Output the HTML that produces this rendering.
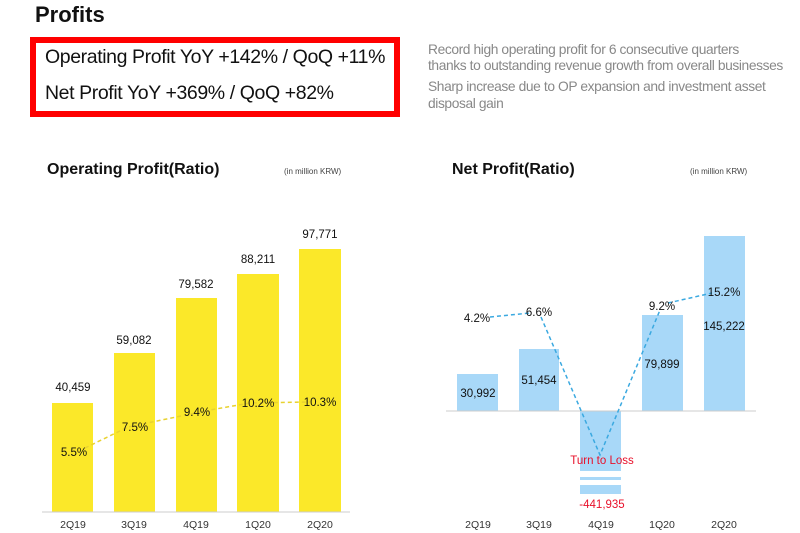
<!DOCTYPE html>
<html><head><meta charset="utf-8"><style>
body{margin:0;width:800px;height:533px;background:#fff;font-family:"Liberation Sans",sans-serif;overflow:hidden;position:relative}
.a{position:absolute;white-space:nowrap}
</style></head><body>
<div class="a" style="left:35px;top:2px;font-size:22px;font-weight:bold;color:#111">Profits</div>
<div class="a" style="left:30px;top:37px;width:358px;height:68px;border:6px solid #f00"></div>
<div class="a" style="left:45px;top:46px;font-size:19.5px;color:#111;letter-spacing:-0.4px">Operating Profit YoY +142% / QoQ +11%</div>
<div class="a" style="left:45px;top:82px;font-size:19.5px;color:#111;letter-spacing:-0.4px">Net Profit YoY +369% / QoQ +82%</div>
<div class="a" style="left:428px;top:42px;font-size:13.8px;color:#888;line-height:16px;letter-spacing:-0.4px">Record high operating profit for 6 consecutive quarters<br>thanks to outstanding revenue growth from overall businesses</div>
<div class="a" style="left:428px;top:78px;font-size:13.8px;color:#888;line-height:17px;letter-spacing:-0.4px">Sharp increase due to OP expansion and investment asset<br>disposal gain</div>
<div class="a" style="left:47px;top:161px;font-size:16px;font-weight:bold;color:#111">Operating Profit(Ratio)</div>
<div class="a" style="left:284px;top:167px;font-size:8px;color:#444">(in million KRW)</div>
<div class="a" style="left:452px;top:161px;font-size:16px;font-weight:bold;color:#111">Net Profit(Ratio)</div>
<div class="a" style="left:690px;top:167px;font-size:8px;color:#444">(in million KRW)</div>
<svg class="a" style="left:0;top:0" width="800" height="533" font-family="Liberation Sans,sans-serif" font-size="11.5" text-anchor="middle">
<g fill="#fbe829">
<rect x="52" y="403" width="41" height="109"/><rect x="114" y="353" width="41" height="159"/><rect x="176" y="298" width="41" height="214"/><rect x="237" y="274" width="42" height="238"/><rect x="299" y="249" width="42" height="263"/>
</g>
<line x1="42" y1="512" x2="350" y2="512" stroke="#ccc"/>
<polyline points="85,448 128,427 210,410 250,403 310,402" fill="none" stroke="#e8d230" stroke-width="1.5" stroke-dasharray="4,3"/>
<g fill="#111">
<text x="73" y="391">40,459</text><text x="134" y="344">59,082</text><text x="196" y="288">79,582</text><text x="258" y="263">88,211</text><text x="320" y="238">97,771</text>
<text x="74" y="456">5.5%</text><text x="135" y="431">7.5%</text><text x="197" y="416">9.4%</text><text x="258" y="407">10.2%</text><text x="320" y="406">10.3%</text>
</g>
<g fill="#333" font-size="10.5"><text x="73" y="528">2Q19</text><text x="134" y="528">3Q19</text><text x="196" y="528">4Q19</text><text x="258" y="528">1Q20</text><text x="320" y="528">2Q20</text></g>
<g fill="#a8d8f8">
<rect x="457" y="374" width="41" height="37"/><rect x="519" y="349" width="40" height="62"/><rect x="580" y="411" width="41" height="60"/><rect x="642" y="315" width="41" height="96"/><rect x="704" y="236" width="41" height="175"/>
<rect x="580" y="477" width="41" height="3"/><rect x="580" y="485" width="41" height="9"/>
</g>
<line x1="446" y1="411" x2="756" y2="411" stroke="#ccc"/>
<polyline points="490,317 530,313" fill="none" stroke="#3ba9e0" stroke-width="1.5" stroke-dasharray="4,3"/>
<polyline points="541,317 600,455 660,310" fill="none" stroke="#3ba9e0" stroke-width="1.5" stroke-dasharray="4,3"/>
<polyline points="668,303 712,293" fill="none" stroke="#3ba9e0" stroke-width="1.5" stroke-dasharray="4,3"/>
<g fill="#111">
<text x="477" y="322">4.2%</text><text x="539" y="316">6.6%</text><text x="662" y="310">9.2%</text><text x="724" y="296">15.2%</text>
<text x="478" y="397">30,992</text><text x="539" y="384">51,454</text><text x="662" y="368">79,899</text><text x="724" y="330">145,222</text>
</g>
<g fill="#e8102a"><text x="602" y="464">Turn to Loss</text><text x="602" y="508">-441,935</text></g>
<g fill="#333" font-size="10.5"><text x="478" y="528">2Q19</text><text x="539" y="528">3Q19</text><text x="601" y="528">4Q19</text><text x="662" y="528">1Q20</text><text x="724" y="528">2Q20</text></g>
</svg>
</body></html>
